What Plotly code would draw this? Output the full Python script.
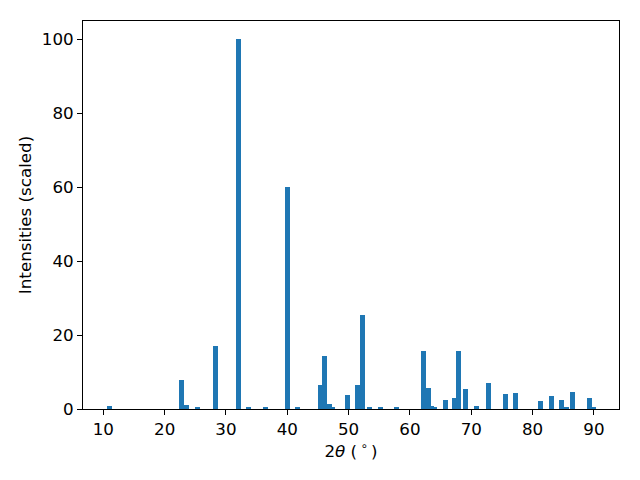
import plotly.graph_objects as go

two_theta = [11.00, 22.74, 23.56, 25.35, 28.29, 32.04, 33.67, 36.44, 40.03, 41.66,
             45.41, 46.06, 46.87, 47.36, 49.81, 51.44, 52.25, 53.40, 55.19, 57.80,
             62.20, 63.02, 63.51, 63.99, 65.79, 67.26, 67.91, 69.05, 70.84, 72.80,
             75.57, 77.20, 81.28, 83.07, 84.70, 85.52, 86.50, 89.27, 89.92]
intensity = [0.8, 7.9, 1.2, 0.3, 17.1, 100.0, 0.3, 0.6, 60.0, 0.3,
             6.5, 14.4, 1.4, 0.3, 3.8, 6.5, 25.5, 0.3, 0.3, 0.3,
             15.7, 5.7, 0.8, 0.3, 2.4, 3.0, 15.7, 5.4, 0.8, 7.0,
             4.1, 4.3, 2.2, 3.5, 2.4, 0.3, 4.6, 3.0, 0.6]
x_ticks = [10, 20, 30, 40, 50, 60, 70, 80, 90]
y_ticks = [0, 20, 40, 60, 80, 100]

FONT = "DejaVu Sans"
fs = 16.7

fig = go.Figure()
fig.add_trace(go.Bar(x=two_theta, y=intensity, width=0.8,
                     marker=dict(color="#1f77b4", line=dict(width=0))))

axis_common = dict(showgrid=False, zeroline=False, showline=True, linecolor="black",
                   linewidth=1, mirror=True, ticks="outside", ticklen=5, tickwidth=1,
                   tickcolor="black", automargin=False,
                   tickfont=dict(family=FONT, size=fs, color="black"))

fig.update_layout(
    width=640, height=480,
    margin=dict(l=83, r=21, t=21, b=71),
    paper_bgcolor="white", plot_bgcolor="white",
    showlegend=False, bargap=0,
    font=dict(family=FONT, size=fs, color="black"),
    xaxis=dict(range=[6.69, 94.09], tickvals=x_ticks,
               title=dict(text="2<i>θ</i> (\u2009<sup>∘</sup>\u2009)", standoff=6,
                          font=dict(family=FONT, size=fs, color="black")),
               **axis_common),
    yaxis=dict(range=[0, 105], tickvals=y_ticks,
               title=dict(text="Intensities (scaled)", standoff=5,
                          font=dict(family=FONT, size=fs, color="black")),
               **axis_common),
)

fig.write_html("out.html", config={"displayModeBar": False},
               post_script="document.body.style.margin='0';document.body.style.padding='0';")
